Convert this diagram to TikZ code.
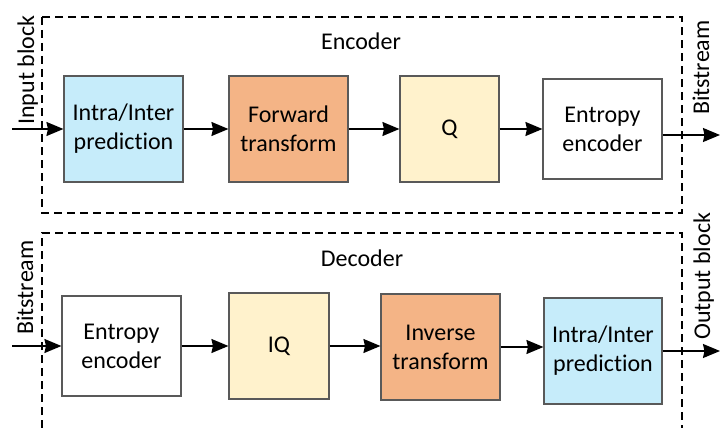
\documentclass[tikz,border=0pt]{standalone}
\usepackage{fontspec}
\setmainfont[Ligatures=NoCommon, RawFeature={-liga;-clig;-calt}]{Carlito}
\usetikzlibrary{arrows.meta}
\definecolor{boxline}{RGB}{89,89,89}
\definecolor{predblue}{RGB}{198,236,250}
\definecolor{transorange}{RGB}{244,180,134}
\definecolor{quantyellow}{RGB}{255,242,204}
\tikzset{
  blk/.style={draw=boxline, line width=1.1pt, align=center, inner sep=0pt,
    font=\fontsize{24}{29}\selectfont},
  frame/.style={line width=1.2pt, dash pattern=on 8pt off 5pt},
  arr/.style={line width=1.6pt, -{Stealth[length=17pt,width=14pt,inset=1.5pt]}},
  lbl/.style={font=\fontsize{24}{29}\selectfont, inner sep=0pt},
  vlbl/.style={lbl, rotate=90, anchor=base west},
}
\begin{document}
\begin{tikzpicture}[x=1pt,y=-1pt]
\useasboundingbox (0,0) rectangle (720,428);

% encoder frame
\draw[frame] (42,17) rectangle (682,213);
\node[lbl, anchor=base] (enclbl) at (361,49) {Encoder};

% decoder frame (open at the bottom)
\draw[frame] (42,428) -- (42,233) -- (682,233) -- (682,428);
\node[lbl, anchor=base] (declbl) at (362,266) {Decoder};

% encoder blocks
\node[blk, fill=predblue, minimum width=119pt, minimum height=106pt] (e1) at (123.5,129) {Intra/Inter\\predic{}tion};
\node[blk, fill=transorange, minimum width=119pt, minimum height=106pt] (e2) at (288.5,129) {Forward\\transform};
\node[blk, fill=quantyellow, minimum width=99pt, minimum height=106pt] (e3) at (449.5,129) {Q};
\node[blk, fill=white, minimum width=119pt, minimum height=100pt] (e4) at (602.5,129) {Entropy\\encoder};

% decoder blocks
\node[blk, fill=white, minimum width=119pt, minimum height=100pt] (d1) at (121.5,346) {Entropy\\encoder};
\node[blk, fill=quantyellow, minimum width=100pt, minimum height=106pt] (d2) at (279,346) {IQ};
\node[blk, fill=transorange, minimum width=119pt, minimum height=106pt] (d3) at (440.5,347) {Inverse\\transform};
\node[blk, fill=predblue, minimum width=118pt, minimum height=106pt] (d4) at (603,351) {Intra/Inter\\predic{}tion};

% side labels
\node[vlbl] (inblk) at (34,125) {Input block};
\node[vlbl] (encbits) at (709,115) {Bitstream};
\node[vlbl] (decbits) at (33,335) {Bitstream};
\node[vlbl] (outblk) at (710,340) {Output block};

% free ends of the external connectors
\coordinate (encin) at (12,129);
\coordinate (encout) at (720,135);
\coordinate (decin) at (12,346);
\coordinate (decout) at (720,351);

% encoder chain
\draw[arr] (encin) -- (e1.west |- encin);
\draw[arr] (e1) -- (e2);
\draw[arr] (e2) -- (e3);
\draw[arr] (e3) -- (e4);
\draw[arr] (e4.east |- encout) -- (encout);

% decoder chain
\draw[arr] (decin) -- (d1.west |- decin);
\draw[arr] (d1) -- (d2);
\draw[arr] (d2.east) -- (d3.west |- d2.east);
\draw[arr] (d3.east) -- (d4.west |- d3.east);
\draw[arr] (d4.east |- decout) -- (decout);
\end{tikzpicture}
\end{document}
